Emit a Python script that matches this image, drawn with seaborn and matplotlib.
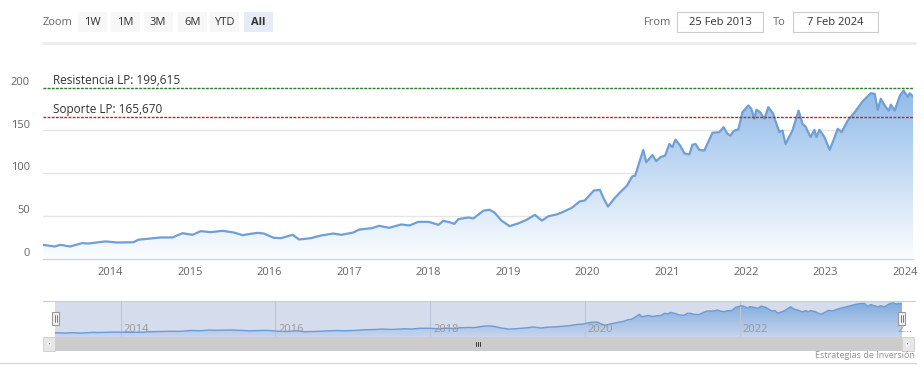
import numpy as np
import pandas as pd
import matplotlib
matplotlib.use("Agg")
import matplotlib.pyplot as plt
import matplotlib.dates as mdates
from matplotlib import transforms
from matplotlib.colors import LinearSegmentedColormap
from matplotlib.patches import Rectangle, Polygon
import seaborn as sns

# price series (approximate)
price_dates = [
    "2013-02-25", "2013-04-20", "2013-05-15", "2013-06-30", "2013-08-24", "2013-09-21", "2013-12-08",
    "2014-02-02", "2014-04-16", "2014-05-10", "2014-07-03", "2014-08-19", "2014-10-13", "2014-11-28",
    "2015-01-14", "2015-02-20", "2015-04-07", "2015-06-01", "2015-07-22", "2015-09-01", "2015-10-08",
    "2015-11-09", "2015-12-07", "2016-01-22", "2016-02-23", "2016-04-18", "2016-05-17", "2016-07-11",
    "2016-08-26", "2016-10-21", "2016-11-27", "2017-01-21", "2017-02-18", "2017-04-15", "2017-05-21",
    "2017-07-05", "2017-08-30", "2017-10-06", "2017-11-16", "2018-01-02", "2018-02-17", "2018-03-11",
    "2018-04-08", "2018-05-01", "2018-05-19", "2018-07-04", "2018-07-27", "2018-09-12", "2018-10-10",
    "2018-11-01", "2018-12-03", "2019-01-10", "2019-02-21", "2019-03-29", "2019-05-06", "2019-06-07",
    "2019-07-08", "2019-08-14", "2019-09-06", "2019-10-23", "2019-11-28", "2019-12-21", "2020-02-01",
    "2020-02-29", "2020-03-18", "2020-04-06", "2020-05-04", "2020-06-01", "2020-07-03", "2020-07-26",
    "2020-08-09", "2020-08-28", "2020-09-15", "2020-09-29", "2020-10-27", "2020-11-14", "2020-12-03",
    "2020-12-25", "2021-01-13", "2021-01-27", "2021-02-10", "2021-03-04", "2021-03-23", "2021-04-15",
    "2021-04-29", "2021-05-13", "2021-05-31", "2021-06-23", "2021-07-30", "2021-08-31", "2021-09-19",
    "2021-10-07", "2021-10-21", "2021-11-08", "2021-11-26", "2021-12-15", "2022-01-11", "2022-01-25",
    "2022-02-08", "2022-02-17", "2022-03-07", "2022-03-26", "2022-04-13", "2022-05-06", "2022-05-15",
    "2022-06-03", "2022-06-17", "2022-07-01", "2022-08-02", "2022-08-30", "2022-09-17", "2022-10-01",
    "2022-10-24", "2022-11-11", "2022-11-20", "2022-12-04", "2022-12-27", "2023-01-20", "2023-02-12",
    "2023-02-26", "2023-03-16", "2023-04-13", "2023-05-15", "2023-06-21", "2023-07-28", "2023-08-15",
    "2023-08-29", "2023-09-12", "2023-10-05", "2023-10-19", "2023-10-28", "2023-11-15", "2023-12-08",
    "2023-12-26", "2024-01-14", "2024-01-23", "2024-02-07",
]
price_values = [
    16, 14, 16, 14, 18, 17.5, 20,
    18.7, 19, 22, 23.4, 24.6, 24.6, 29.6,
    27.7, 32, 30.8, 32.4, 30.4, 27.3, 28.9,
    30, 29.2, 24.2, 23.8, 27.7, 22.2, 23.8,
    26.9, 29.2, 27.7, 30.4, 33.9, 35.4, 38.2,
    35.9, 39.8, 38.6, 42.9, 42.9, 39.4, 44,
    42.5, 40.5, 46, 48, 46.8, 56, 57,
    53.8, 44.4, 37.8, 41.3, 45.3, 51, 44.4,
    49.5, 51.5, 53.8, 59.3, 66.7, 67.8, 79.5,
    80.3, 69.8, 60.8, 69.8, 77.5, 85.4, 95.9,
    97, 112.6, 127, 112.6, 121, 113.8, 118.5,
    120.5, 134, 130, 139, 132, 123, 121.6,
    133, 134, 127, 126.3, 147, 147.8, 153.6,
    145.8, 143.9, 149.7, 150.9, 171, 179, 175,
    163.4, 174, 171, 163.4, 177, 169, 161.4,
    147.8, 149.7, 134, 149.7, 173, 157.5, 154.4,
    142, 150.5, 142, 150.5, 142, 127, 142,
    151.7, 147.8, 161.4, 171, 184, 193.3, 192.6,
    174, 186.8, 177, 173, 180, 173, 190,
    196.5, 189, 193.3, 189.5,
]

resistance = 199.615
support = 165.670
resistance_label = "Resistencia LP: 199,615"
support_label = "Soporte LP: 165,670"
y_ticks = [0, 50, 100, 150, 200]
main_years = list(range(2014, 2025))
nav_years = [2014, 2016, 2018, 2020, 2022, 2024]
nav_labels = ["2014", "2016", "2018", "2020", "2022", "2…"]
zoom_buttons = ["1W", "1M", "3M", "6M", "YTD", "All"]
range_from = "25 Feb 2013"
range_to = "7 Feb 2024"
credit = "Estrategias de Inversión"

W, H = 924, 374

sns.set_style("white")
plt.rcParams["font.family"] = ["Open Sans", "DejaVu Sans"]

df = pd.DataFrame({"date": pd.to_datetime(price_dates), "value": price_values})
start, end = df["date"].iloc[0], df["date"].iloc[-1]


def box(x0, y0, x1, y1):
    # pixel box (top-left origin) -> figure fraction
    return [x0 / W, 1 - y1 / H, (x1 - x0) / W, (y1 - y0) / H]


def gradient_area(axis, bottom, top, c_top, c_bottom):
    fill = axis.fill_between(df["date"], df["value"], bottom, facecolor="none", edgecolor="none")
    cmap = LinearSegmentedColormap.from_list("area", [c_bottom, c_top])
    img = axis.imshow(np.linspace(0, 1, 256).reshape(-1, 1), cmap=cmap, origin="lower", aspect="auto",
                      extent=[mdates.date2num(start), mdates.date2num(end), bottom, top], zorder=1)
    img.set_clip_path(fill.get_paths()[0], transform=axis.transData)


fig = plt.figure(figsize=(W / 100, H / 100), dpi=100)

# main chart
ax = fig.add_axes(box(43, 44.75, 913, 258.5))
gradient_area(ax, 0, 250, "#74a9e2", "#fbfdff")
sns.lineplot(data=df, x="date", y="value", ax=ax, color="#6f9fd6", linewidth=1.6, zorder=3)
ax.set_xlim(start, end)
ax.set_ylim(0, 250)
for v in y_ticks[1:]:
    ax.axhline(v, color="#e6e6e6", linewidth=1, zorder=0)
for s in ["top", "left", "right"]:
    ax.spines[s].set_visible(False)
ax.spines["bottom"].set_color("#ccd6eb")
ax.spines["bottom"].set_linewidth(1)
ax.set_xticks(pd.to_datetime([f"{y}-01-01" for y in main_years]))
ax.set_xticklabels([str(y) for y in main_years])
ax.tick_params(axis="x", length=3, width=0.8, color="#ccd6eb", labelcolor="#666666", labelsize=8, pad=3)
ax.set_yticks([])
ax.set_xlabel("")
ax.set_ylabel("")

ylab_tr = transforms.offset_copy(ax.get_yaxis_transform(), fig=fig, x=-13, y=5, units="dots")
for v in y_ticks:
    ax.text(0, v, str(v), transform=ylab_tr, ha="right", va="center", fontsize=8, color="#666666")

ax.axhline(resistance, color="#2f7d32", linewidth=1, linestyle=(0, (2, 1)), zorder=4)
ax.axhline(support, color="#b8282e", linewidth=1, linestyle=(0, (2, 1)), zorder=4)
lvl_tr = transforms.offset_copy(ax.get_yaxis_transform(), fig=fig, x=0, y=1, units="dots")
ax.text(10 / 870, resistance, resistance_label, transform=lvl_tr, ha="left", va="bottom",
        fontsize=8.5, color="#333333", zorder=5)
ax.text(10 / 870, support, support_label, transform=lvl_tr, ha="left", va="bottom",
        fontsize=8.5, color="#333333", zorder=5)

# navigator
nav = fig.add_axes(box(55, 301, 902, 336.7))
nav.set_facecolor("#d5dcec")
gradient_area(nav, -8, 208, "#7eaadf", "#c7d4ec")
sns.lineplot(data=df, x="date", y="value", ax=nav, color="#6d9bd3", linewidth=1, zorder=3)
nav.set_xlim(start, end)
nav.set_ylim(-8, 208)
nav_tr = transforms.offset_copy(nav.get_xaxis_transform(), fig=fig, x=3, y=0, units="dots")
for y, lab in zip(nav_years, nav_labels):
    d = pd.Timestamp(f"{y}-01-01")
    if y < 2024:
        nav.axvline(d, color="#bcc4d7", linewidth=0.8, zorder=2)
    nav.text(d, 0.19, lab, transform=nav_tr, ha="left", va="center", fontsize=8, color="#999999", zorder=4)
nav.set_xticks([])
nav.set_yticks([])
nav.set_xlabel("")
nav.set_ylabel("")
for s in nav.spines.values():
    s.set_visible(False)

# range selector, scrollbar and other chrome, in pixel coordinates
ov = fig.add_axes([0, 0, 1, 1], zorder=5)
ov.set_xlim(0, W)
ov.set_ylim(H, 0)
ov.set_axis_off()

ov.text(43, 22, "Zoom", ha="left", va="center", fontsize=8, color="#666666")
btn_x = [78, 111, 144, 178, 210, 244]
for x0, lab in zip(btn_x, zoom_buttons):
    sel = lab == "All"
    ov.add_patch(Rectangle((x0, 12), 28.5, 20, facecolor="#e6ebf5" if sel else "#f7f7f7", edgecolor="none"))
    ov.text(x0 + 14.25, 22, lab, ha="center", va="center", fontsize=8, color="#333333",
            fontweight="bold" if sel else "normal")

ov.text(644, 22, "From", ha="left", va="center", fontsize=8, color="#666666")
ov.add_patch(Rectangle((677, 12), 86, 20, facecolor="white", edgecolor="#cccccc", linewidth=0.8))
ov.text(720, 22, range_from, ha="center", va="center", fontsize=8, color="#333333")
ov.text(773, 22, "To", ha="left", va="center", fontsize=8, color="#666666")
ov.add_patch(Rectangle((793, 12), 85, 20, facecolor="white", edgecolor="#cccccc", linewidth=0.8))
ov.text(835.5, 22, range_to, ha="center", va="center", fontsize=8, color="#333333")

ov.plot([43, 915], [42.5, 42.5], color="#ececec", linewidth=2)
ov.plot([43, 915], [301, 301], color="#cccccc", linewidth=0.8)

# scrollbar
ov.add_patch(Rectangle((55, 337), 847, 13.5, facecolor="#cccccc", edgecolor="none"))
ov.add_patch(Rectangle((43, 337), 12, 13.5, facecolor="#e6e6e6", edgecolor="#cccccc", linewidth=0.6))
ov.add_patch(Rectangle((902, 337), 12, 13.5, facecolor="#e6e6e6", edgecolor="#cccccc", linewidth=0.6))
ov.add_patch(Polygon([(47.5, 343.7), (50.5, 341.5), (50.5, 346)], closed=True, facecolor="#333333"))
ov.add_patch(Polygon([(909.5, 343.7), (906.5, 341.5), (906.5, 346)], closed=True, facecolor="#333333"))
for x in [475.5, 477.5, 479.5]:
    ov.plot([x, x], [341.5, 346], color="#333333", linewidth=0.7)

# navigator handles
for hx in [52, 898]:
    ov.add_patch(Rectangle((hx, 311.5), 7, 13.5, facecolor="#f2f2f2", edgecolor="#999999", linewidth=0.8))
    for dx in [2.5, 4.5]:
        ov.plot([hx + dx, hx + dx], [314.5, 322], color="#666666", linewidth=0.6)

ov.plot([0, 916], [363, 363], color="#d9d9d9", linewidth=1)
ov.text(915, 356, credit, ha="right", va="center", fontsize=6.5, color="#909090")

fig.savefig("out.png", dpi=100)
